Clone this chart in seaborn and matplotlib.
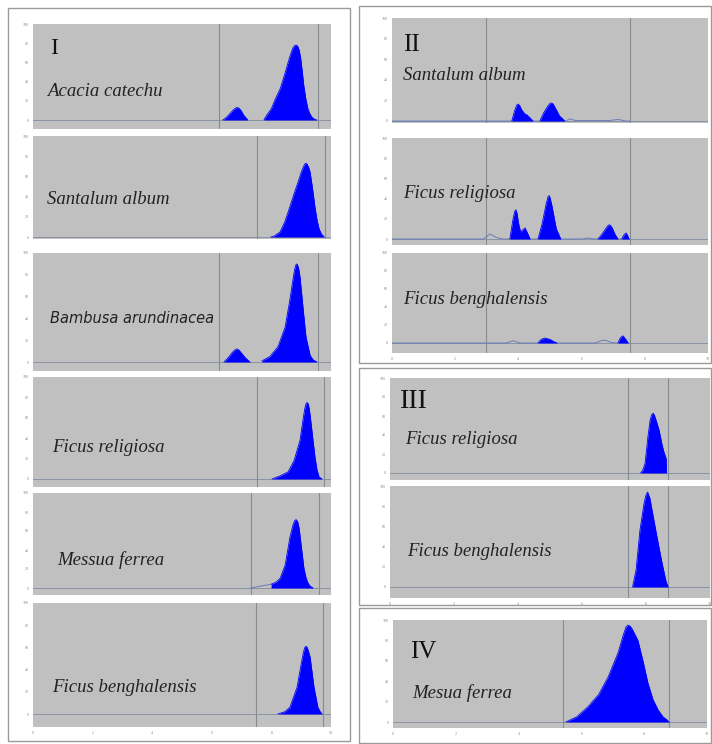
import matplotlib
matplotlib.use("Agg")
import matplotlib.pyplot as plt
from matplotlib.patches import Rectangle
import seaborn as sns

sns.set_style("white")
plt.rcParams["font.family"] = ["Liberation Serif", "DejaVu Serif"]

# ===================== DATOS (leidos del densitograma) =====================
# x = posicion del barrido (0-10), y = % de la escala completa

# --- I ---
acacia_pk1_x = [6.37, 6.5, 6.62, 6.72, 6.8, 6.85, 6.9, 6.98, 7.07, 7.21]
acacia_pk1_y = [0, 3, 7, 10.5, 12.5, 13, 12.5, 10, 5, 0]
acacia_pk2_x = [7.75, 7.8, 8.0, 8.12, 8.3, 8.46, 8.56, 8.65, 8.72, 8.78, 8.83, 8.88, 8.93, 8.98,
                9.03, 9.09, 9.16, 9.23, 9.3, 9.36, 9.44, 9.52]
acacia_pk2_y = [0, 3, 12, 21, 33, 49, 60, 69, 75, 77.5, 78, 77, 73, 65, 52, 35, 21, 11, 6, 3, 1, 0]

santalum1_x = [7.98, 8.1, 8.29, 8.45, 8.62, 8.75, 8.89, 9.0, 9.08, 9.13, 9.16, 9.2, 9.25, 9.3,
               9.38, 9.46, 9.53, 9.6, 9.68, 9.77]
santalum1_y = [0, 1, 5, 15, 30, 42, 54, 64, 70, 72.5, 73, 72, 69, 64, 48, 30, 17, 8, 3, 0]

bambusa_pk1_x = [6.41, 6.55, 6.68, 6.77, 6.84, 6.91, 7.0, 7.12, 7.28]
bambusa_pk1_y = [0, 4, 8.5, 11, 12, 11, 8, 4, 0]
bambusa_pk2_x = [7.68, 7.95, 8.22, 8.46, 8.62, 8.72, 8.78, 8.82, 8.85, 8.88, 8.92, 8.96, 9.06,
                 9.16, 9.3, 9.4, 9.53]
bambusa_pk2_y = [1, 5, 14, 32, 57, 75, 85, 89, 90, 89, 85, 78, 50, 23, 6, 2, 0]

religiosa1_x = [8.02, 8.29, 8.56, 8.76, 8.86, 8.96, 9.06, 9.12, 9.16, 9.19, 9.23, 9.27, 9.33,
                9.4, 9.46, 9.53, 9.6, 9.7]
religiosa1_y = [0, 3, 7, 18, 28, 38, 58, 69, 73.5, 75, 74, 69, 55, 37, 22, 9, 2, 0]

messua_x = [7.99, 8.15, 8.29, 8.46, 8.62, 8.72, 8.78, 8.83, 8.88, 8.93, 8.98, 9.09, 9.16, 9.23,
            9.3, 9.4]
messua_y = [4, 6, 10, 24, 53, 66, 71, 72, 70, 63, 50, 21, 11, 5, 2, 0]
messua_trace_x = [7.3, 7.99]
messua_trace_y = [0, 4]

bengh1_x = [8.22, 8.45, 8.62, 8.86, 9.0, 9.07, 9.12, 9.16, 9.2, 9.25, 9.3, 9.43, 9.56, 9.64, 9.7]
bengh1_y = [0, 2, 6, 24, 45, 55, 60, 61, 60, 56, 51, 24, 6, 2, 0]

# --- II ---
santalum2_pk1_x = [3.79, 3.88, 3.95, 3.99, 4.04, 4.1, 4.2, 4.27, 4.37, 4.46]
santalum2_pk1_y = [0, 10, 15.5, 16.5, 15, 11, 7, 6, 3, 0]
santalum2_pk2_x = [4.68, 4.8, 4.92, 5.0, 5.05, 5.1, 5.18, 5.3, 5.47]
santalum2_pk2_y = [0, 8, 14, 17, 17.5, 16.5, 12, 5, 0]
santalum2_trace_x = [0, 5.5, 5.63, 5.8, 6.2, 6.9, 7.15, 7.4, 7.53]
santalum2_trace_y = [0, 0, 2, 0.5, 0.5, 0.5, 1.5, 0, 0]

religiosa2_pk1_x = [3.73, 3.82, 3.88, 3.92, 3.96, 4.0, 4.07, 4.14, 4.21, 4.3, 4.37]
religiosa2_pk1_y = [0, 18, 27, 29, 25, 16, 7, 9, 11, 5, 0]
religiosa2_pk2_x = [4.62, 4.75, 4.88, 4.94, 4.97, 5.0, 5.06, 5.2, 5.34]
religiosa2_pk2_y = [0, 15, 35, 42, 43, 41, 33, 10, 0]
religiosa2_pk3_x = [6.52, 6.65, 6.78, 6.84, 6.87, 6.91, 6.97, 7.05, 7.15]
religiosa2_pk3_y = [0, 5, 11, 13.5, 14, 13.5, 11, 5, 0]
religiosa2_pk4_x = [7.27, 7.34, 7.41, 7.46, 7.5]
religiosa2_pk4_y = [0, 4, 6, 3, 0]
religiosa2_trace_x = [0, 2.9, 3.1, 3.3, 3.5, 3.73, 6.0, 6.2, 6.4, 7.53]
religiosa2_trace_y = [0, 0, 5, 1.5, 0, 0, 0, 1, 0, 0]

bengh2_pk1_x = [4.62, 4.72, 4.84, 5.0, 5.1, 5.22]
bengh2_pk1_y = [0, 4, 5.5, 4, 2, 0]
bengh2_pk2_x = [7.15, 7.23, 7.31, 7.4, 7.47]
bengh2_pk2_y = [0, 6, 8, 4, 0]
bengh2_trace_x = [0, 3.6, 3.75, 3.83, 3.92, 4.05, 6.45, 6.6, 6.68, 6.8, 6.95, 7.15, 7.5]
bengh2_trace_y = [0, 0, 1.5, 2.5, 1.5, 0, 0, 2.5, 3, 2.5, 0.5, 0, 0]

# --- III ---
religiosa3_x = [7.83, 7.9, 7.97, 8.06, 8.13, 8.18, 8.22, 8.26, 8.31, 8.41, 8.5, 8.56, 8.63, 8.64]
religiosa3_y = [0, 3, 10, 38, 56, 61.5, 63, 61, 56, 45, 30, 22, 15, 0]

bengh3_x = [7.58, 7.69, 7.81, 7.94, 8.0, 8.05, 8.12, 8.19, 8.34, 8.5, 8.63, 8.69]
bengh3_y = [0, 17, 56, 83, 91, 94, 88, 76, 50, 24, 5, 0]

# --- IV ---
mesua_x = [5.5, 5.85, 6.21, 6.55, 6.85, 7.17, 7.33, 7.42, 7.48, 7.55, 7.62, 7.8, 7.96, 8.12, 8.28,
           8.44, 8.6, 8.73, 8.79]
mesua_y = [0, 5, 15, 27, 44, 68, 85, 93, 95, 94, 91, 80, 60, 38, 22, 12, 5, 2, 0]

# ===================== DISEÑO (pixeles) =====================
W, H = 712, 744
GRIS = "#c0c0c0"
AZUL = "#0000ff"

# (izq, arriba, der, abajo, linea base, lineas verticales, picos, trazo, especie, posicion texto)
paneles = [
    (33, 24, 331, 129, 120, [6.24, 9.56], [(acacia_pk1_x, acacia_pk1_y), (acacia_pk2_x, acacia_pk2_y)], None, "Acacia catechu", (47, 92)),
    (33, 136, 331, 239, 237, [7.52, 9.80], [(santalum1_x, santalum1_y)], None, "Santalum album", (47, 200)),
    (33, 253, 331, 371, 362, [6.24, 9.56], [(bambusa_pk1_x, bambusa_pk1_y), (bambusa_pk2_x, bambusa_pk2_y)], None, "Bambusa arundinacea", (50, 318)),
    (33, 377, 331, 487, 479, [7.52, 9.77], [(religiosa1_x, religiosa1_y)], None, "Ficus religiosa", (52, 448)),
    (33, 493, 331, 595, 588, [7.30, 9.60], [(messua_x, messua_y)], (messua_trace_x, messua_trace_y), "Messua ferrea", (57, 560)),
    (33, 603, 331, 727, 714, [7.48, 9.73], [(bengh1_x, bengh1_y)], None, "Ficus benghalensis", (52, 688)),
    (392, 18, 708, 123, 121, [2.97, 7.53], [(santalum2_pk1_x, santalum2_pk1_y), (santalum2_pk2_x, santalum2_pk2_y)],
     (santalum2_trace_x, santalum2_trace_y), "Santalum album", (403, 75)),
    (392, 138, 708, 245, 239, [2.97, 7.53], [(religiosa2_pk1_x, religiosa2_pk1_y), (religiosa2_pk2_x, religiosa2_pk2_y),
                                            (religiosa2_pk3_x, religiosa2_pk3_y), (religiosa2_pk4_x, religiosa2_pk4_y)],
     (religiosa2_trace_x, religiosa2_trace_y), "Ficus religiosa", (403, 193)),
    (392, 253, 708, 353, 343, [2.97, 7.53], [(bengh2_pk1_x, bengh2_pk1_y), (bengh2_pk2_x, bengh2_pk2_y)],
     (bengh2_trace_x, bengh2_trace_y), "Ficus benghalensis", (403, 300)),
    (390, 378, 710, 480, 473, [7.44, 8.69], [(religiosa3_x, religiosa3_y)], None, "Ficus religiosa", (405, 440)),
    (390, 486, 710, 598, 587, [7.44, 8.69], [(bengh3_x, bengh3_y)], None, "Ficus benghalensis", (407, 551)),
    (393, 620, 707, 728, 722, [5.41, 8.79], [(mesua_x, mesua_y)], None, "Mesua ferrea", (412, 693)),
]
con_eje_x = [5, 8, 10, 11]

numeros = [("I", 50, 48, 17), ("II", 403, 45, 18), ("III", 400, 402, 20), ("IV", 410, 652, 18)]
cajas = [(8, 8, 350, 741), (359, 6, 711, 363), (359, 368, 711, 605), (359, 608, 711, 743)]

fig = plt.figure(figsize=(W / 100, H / 100), dpi=100)

for (x0, y0, x1, y1) in cajas:
    fig.add_artist(Rectangle((x0 / W, 1 - y1 / H), (x1 - x0) / W, (y1 - y0) / H,
                             transform=fig.transFigure, fill=False, ec="#9a9a9a", lw=1.0))

for i, (l, t, r, b, base, vl, picos, trazo, especie, pos) in enumerate(paneles):
    ax = fig.add_axes([l / W, 1 - b / H, (r - l) / W, (b - t) / H])
    ax.set_facecolor(GRIS)
    ymin = -(b - base) / (base - t) * 100
    ax.set_xlim(0, 10)
    ax.set_ylim(ymin, 100)
    for s in ax.spines.values():
        s.set_visible(False)
    ax.axhline(0, color="#8a93a3", lw=0.7, zorder=1)
    for v in vl:
        ax.axvline(v, color="#858b90", lw=0.8, zorder=1)
    if trazo is not None:
        sns.lineplot(x=trazo[0], y=trazo[1], ax=ax, color="#6c7db8", lw=0.7, sort=False, estimator=None, zorder=2)
    for px, py in picos:
        ax.fill_between(px, 0, py, color=AZUL, lw=0, zorder=3)
        sns.lineplot(x=px, y=py, ax=ax, color=AZUL, lw=0.6, sort=False, estimator=None, zorder=3)
    ax.set_yticks([0, 20, 40, 60, 80, 100])
    if i in con_eje_x:
        ax.set_xticks([0, 2, 4, 6, 8, 10])
    else:
        ax.set_xticks([])
    ax.tick_params(direction="out", length=2, width=0.4, colors="#8a8a8a", labelsize=3, pad=1)
    ax.set_xlabel("")
    ax.set_ylabel("")

    if especie == "Bambusa arundinacea":
        fig.text(pos[0] / W, 1 - pos[1] / H, especie, fontsize=10.5, style="italic",
                 family=["DejaVu Sans"], color="#222222", va="center", ha="left")
    else:
        fig.text(pos[0] / W, 1 - pos[1] / H, especie, fontsize=13.5, style="italic",
                 color="#222222", va="center", ha="left")

for txt, x, y, fs in numeros:
    fig.text(x / W, 1 - y / H, txt, fontsize=fs, color="#111111", va="center", ha="left")

fig.savefig("out.png", dpi=100, facecolor="white")
